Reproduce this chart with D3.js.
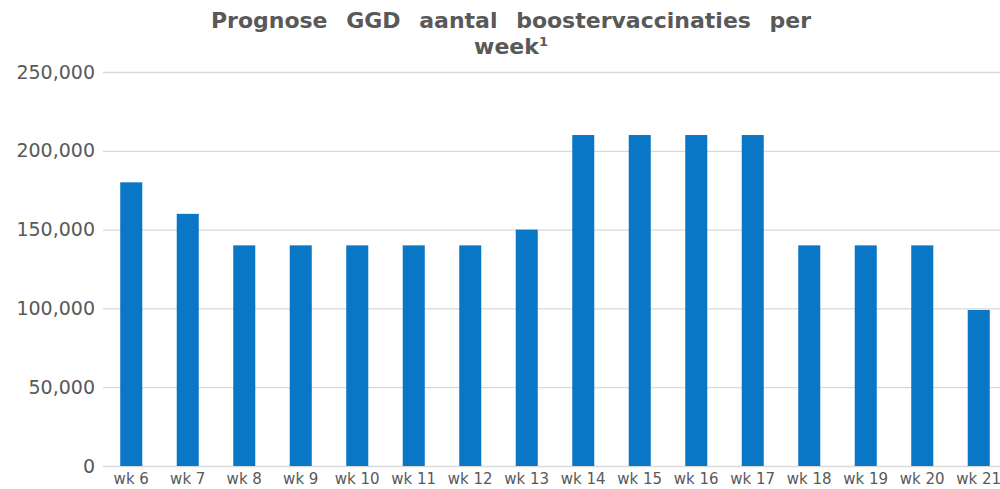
<!DOCTYPE html>
<html lang="en">
<head>
<meta charset="UTF-8">
<title>Prognose GGD</title>
<style>
  body { margin: 0; background: #fff; }
  svg { display: block; }
</style>
</head>
<body>
<script src="https://d3js.org/d3.v7.min.js"></script>
<svg id="vis"></svg>
<script>
    // Data
    const weeks = ['wk 6', 'wk 7', 'wk 8', 'wk 9', 'wk 10', 'wk 11', 'wk 12', 'wk 13',
                   'wk 14', 'wk 15', 'wk 16', 'wk 17', 'wk 18', 'wk 19', 'wk 20', 'wk 21']
    const boosters = [180000, 160000, 140000, 140000, 140000, 140000, 140000, 150000,
                      210000, 210000, 210000, 210000, 140000, 140000, 140000, 99000]
    const yTicks = [0, 50000, 100000, 150000, 200000, 250000]
    const titleLines = ['Prognose GGD aantal boostervaccinaties per', 'week']

    // Configurations
    const width = 1000
    const height = 489
    const margin = { top: 72, left: 103, bottom: 23 }
    const plotRight = 1007
    const barColor = '#0a77c6'
    const textColor = '#595959'
    const gridColor = '#d9d9d9'
    const font = '"DejaVu Sans", Verdana, sans-serif'

    const svg = d3.select('#vis')
        .attr('width', width)
        .attr('height', height)
        .style('font-family', font)

    const x = d3.scaleBand()
        .domain(weeks)
        .range([margin.left, plotRight])
        .paddingInner(0.61)
        .paddingOuter(0.305)

    const y = d3.scaleLinear()
        .domain([0, 250000])
        .range([height - margin.bottom, margin.top])

    // Gridlines + y labels
    const yAxis = svg.append('g')
        .attr('transform', `translate(${margin.left},0)`)
        .call(d3.axisLeft(y)
            .tickValues(yTicks)
            .tickSize(-(plotRight - margin.left))
            .tickPadding(8)
            .tickFormat(d3.format(',')))
    yAxis.select('.domain').remove()
    yAxis.selectAll('.tick line').attr('stroke', gridColor).attr('stroke-width', 1.3)
    yAxis.selectAll('.tick text')
        .attr('fill', textColor)
        .style('font-size', '19px')
        .style('font-family', font)

    // Bars
    svg.selectAll('rect.bar')
        .data(boosters)
        .enter()
        .append('rect')
        .attr('class', 'bar')
        .attr('x', (d, i) => x(weeks[i]))
        .attr('width', x.bandwidth())
        .attr('y', d => y(d))
        .attr('height', d => y(0) - y(d))
        .attr('fill', barColor)

    // X labels
    const xAxis = svg.append('g')
        .attr('transform', `translate(0,${y(0)})`)
        .call(d3.axisBottom(x).tickSize(0).tickPadding(7))
    xAxis.select('.domain').remove()
    xAxis.selectAll('.tick text')
        .attr('fill', textColor)
        .style('font-size', '15px')
        .style('font-family', font)

    // Title
    const title = svg.append('text')
        .attr('text-anchor', 'middle')
        .attr('fill', textColor)
        .style('font-size', '22px')
        .style('font-weight', 'bold')
    title.append('tspan')
        .attr('x', 511)
        .attr('y', 28)
        .attr('word-spacing', '11px')
        .text(titleLines[0])
    const line2 = title.append('tspan')
        .attr('x', 511)
        .attr('y', 54)
        .text(titleLines[1])
    line2.append('tspan')
        .style('font-size', '13px')
        .attr('dy', -8)
        .text('1')
</script>
</body>
</html>
